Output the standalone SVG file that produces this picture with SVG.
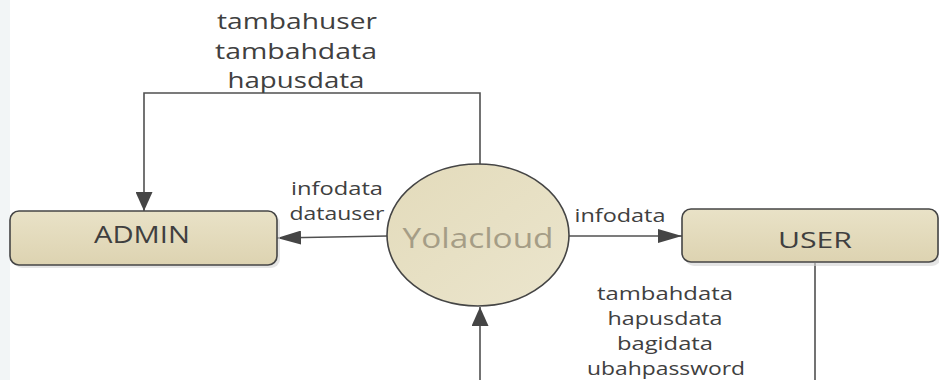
<svg xmlns="http://www.w3.org/2000/svg" width="939" height="380" viewBox="0 0 939 380">
<defs>
<linearGradient id="boxFill" x1="0" y1="0" x2="0" y2="1">
<stop offset="0" stop-color="#e9e2c7"/>
<stop offset="1" stop-color="#ddd3b1"/>
</linearGradient>
<linearGradient id="ellFill" x1="0" y1="0" x2="1" y2="1">
<stop offset="0" stop-color="#e3dbbb"/>
<stop offset="1" stop-color="#ebe5cd"/>
</linearGradient>
<marker id="arrH" markerUnits="userSpaceOnUse" markerWidth="24" markerHeight="14" viewBox="0 0 24 14" refX="24" refY="7" orient="auto">
<path d="M0,0 L24,7 L0,14 z" fill="#454545"/>
</marker>
<marker id="arrV" markerUnits="userSpaceOnUse" markerWidth="19" markerHeight="17" viewBox="0 0 19 17" refX="19" refY="8.5" orient="auto">
<path d="M0,0 L19,8.5 L0,17 z" fill="#454545"/>
</marker>
</defs>
<style>
.box{fill:url(#boxFill);stroke:#454545;stroke-width:1.6}
.shadow{fill:#d4d4d4;opacity:0.6}
.ell{fill:url(#ellFill);stroke:#454545;stroke-width:1.6}
.line{fill:none;stroke:#505050;stroke-width:1.6}
.lbl{font-family:"Open Sans","Noto Sans",sans-serif;fill:#404040;text-anchor:middle}
.name{font-family:"Open Sans","Noto Sans",sans-serif;fill:#3f3f3f;text-anchor:middle}
.proc{font-family:"Open Sans","Noto Sans",sans-serif;fill:#a59d86;text-anchor:middle}
</style>
<rect width="939" height="380" fill="#ffffff"/>
<rect x="0" y="0" width="10" height="380" fill="#f2f5f6"/>

<g id="connectors">
<polyline class="line" points="480,164 480,93 144,93 144,211" marker-end="url(#arrV)"/>
<line class="line" x1="388" y1="236" x2="277" y2="238" marker-end="url(#arrH)"/>
<line class="line" x1="569" y1="236" x2="682" y2="236" marker-end="url(#arrH)"/>
<line class="line" x1="480" y1="380" x2="480" y2="307" marker-end="url(#arrV)"/>
<line class="line" x1="815" y1="263" x2="815" y2="380"/>
<text class="lbl" font-size="22" x="297" y="29" textLength="160" lengthAdjust="spacingAndGlyphs">tambahuser</text>
<text class="lbl" font-size="22" x="296" y="59" textLength="162" lengthAdjust="spacingAndGlyphs">tambahdata</text>
<text class="lbl" font-size="22" x="296" y="88" textLength="137" lengthAdjust="spacingAndGlyphs">hapusdata</text>
<text class="lbl" font-size="19" x="337" y="195" textLength="92" lengthAdjust="spacingAndGlyphs">infodata</text>
<text class="lbl" font-size="19" x="337" y="220" textLength="95" lengthAdjust="spacingAndGlyphs">datauser</text>
<text class="lbl" font-size="19" x="620" y="222" textLength="91" lengthAdjust="spacingAndGlyphs">infodata</text>
<text class="lbl" font-size="19" x="665" y="300" textLength="136" lengthAdjust="spacingAndGlyphs">tambahdata</text>
<text class="lbl" font-size="19" x="665" y="325" textLength="115" lengthAdjust="spacingAndGlyphs">hapusdata</text>
<text class="lbl" font-size="19" x="665" y="350" textLength="96" lengthAdjust="spacingAndGlyphs">bagidata</text>
<text class="lbl" font-size="19" x="666" y="375" textLength="158" lengthAdjust="spacingAndGlyphs">ubahpassword</text>
</g>

<g id="admin">
<rect class="shadow" x="13" y="214" width="267" height="54" rx="9"/>
<rect class="box" x="10" y="211" width="267" height="54" rx="9"/>
<text class="name" font-size="23" x="142" y="243" textLength="96" lengthAdjust="spacingAndGlyphs">ADMIN</text>
</g>

<g id="yolacloud">
<ellipse class="ell" cx="478" cy="235" rx="91" ry="71"/>
<text class="proc" font-size="27" x="478" y="248" textLength="151" lengthAdjust="spacingAndGlyphs">Yolacloud</text>
</g>

<g id="user">
<rect class="shadow" x="685" y="212" width="256" height="54" rx="9"/>
<rect class="box" x="682" y="209" width="256" height="53" rx="9"/>
<text class="name" font-size="22" x="815" y="248" textLength="74" lengthAdjust="spacingAndGlyphs">USER</text>
</g>
</svg>
